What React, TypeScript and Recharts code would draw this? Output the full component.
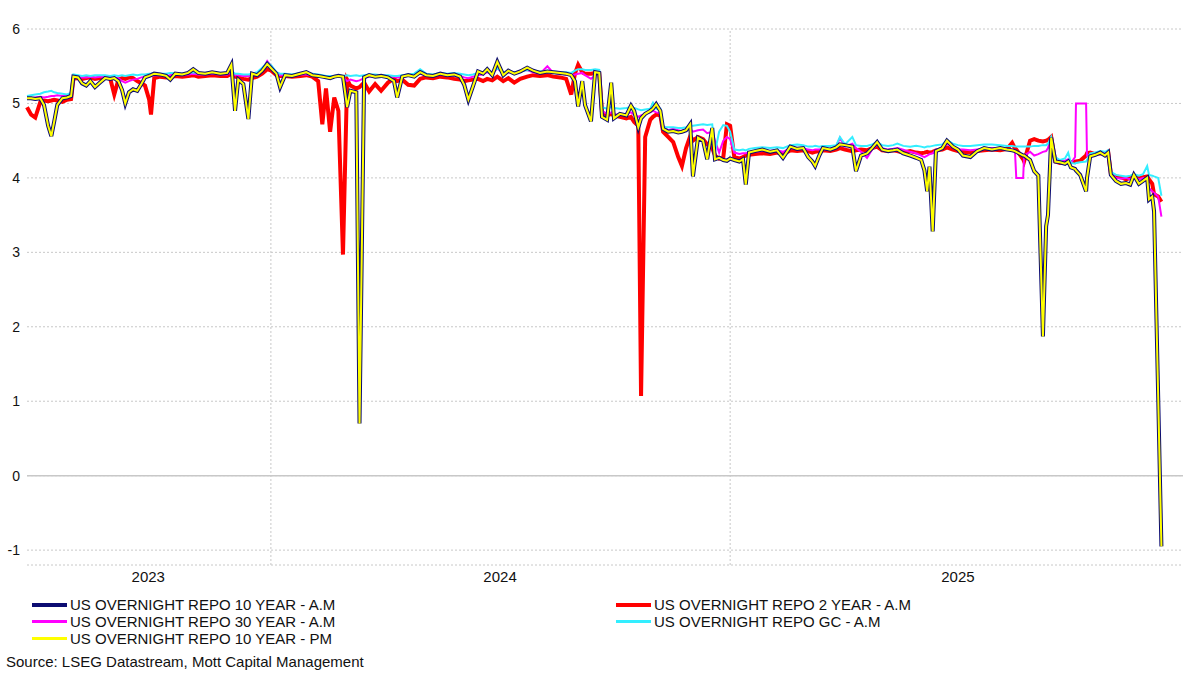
import { LineChart, Line, XAxis, YAxis, CartesianGrid, ReferenceLine } from 'recharts'

const dates = [
  2023.469, 2023.478, 2023.487, 2023.498, 2023.506, 2023.515, 2023.522, 2023.528, 2023.535, 2023.546,
  2023.556, 2023.565, 2023.570, 2023.580, 2023.589, 2023.598, 2023.607, 2023.617, 2023.628, 2023.639,
  2023.650, 2023.659, 2023.668, 2023.676, 2023.683, 2023.691, 2023.700, 2023.709, 2023.718, 2023.726,
  2023.735, 2023.739, 2023.746, 2023.759, 2023.772, 2023.781, 2023.792, 2023.807, 2023.820, 2023.831,
  2023.842, 2023.857, 2023.872, 2023.890, 2023.905, 2023.914, 2023.922, 2023.929, 2023.940, 2023.951,
  2023.959, 2023.970, 2023.981, 2023.992, 2024.001, 2024.012, 2024.020, 2024.031, 2024.046, 2024.064,
  2024.077, 2024.090, 2024.103, 2024.112, 2024.120, 2024.129, 2024.138, 2024.147, 2024.157, 2024.166,
  2024.173, 2024.186, 2024.193, 2024.203, 2024.214, 2024.227, 2024.240, 2024.255, 2024.268, 2024.275,
  2024.286, 2024.299, 2024.312, 2024.325, 2024.338, 2024.353, 2024.369, 2024.384, 2024.399, 2024.412,
  2024.421, 2024.430, 2024.440, 2024.451, 2024.462, 2024.471, 2024.482, 2024.493, 2024.506, 2024.517,
  2024.530, 2024.543, 2024.558, 2024.571, 2024.586, 2024.602, 2024.615, 2024.630, 2024.643, 2024.654,
  2024.662, 2024.669, 2024.678, 2024.684, 2024.697, 2024.706, 2024.715, 2024.721, 2024.732, 2024.741,
  2024.747, 2024.760, 2024.774, 2024.784, 2024.791, 2024.800, 2024.806, 2024.815, 2024.826, 2024.832,
  2024.839, 2024.848, 2024.854, 2024.865, 2024.876, 2024.887, 2024.895, 2024.904, 2024.913, 2024.919,
  2024.930, 2024.941, 2024.950, 2024.961, 2024.967, 2024.976, 2024.985, 2024.993, 2025.000, 2025.009,
  2025.020, 2025.028, 2025.034, 2025.041, 2025.054, 2025.070, 2025.087, 2025.102, 2025.115, 2025.131,
  2025.146, 2025.159, 2025.170, 2025.179, 2025.185, 2025.194, 2025.202, 2025.218, 2025.231, 2025.239,
  2025.250, 2025.266, 2025.274, 2025.285, 2025.298, 2025.309, 2025.320, 2025.331, 2025.344, 2025.355,
  2025.364, 2025.377, 2025.392, 2025.405, 2025.416, 2025.423, 2025.429, 2025.434, 2025.441, 2025.448,
  2025.462, 2025.472, 2025.485, 2025.496, 2025.507, 2025.523, 2025.538, 2025.553, 2025.570, 2025.588,
  2025.603, 2025.614, 2025.620, 2025.623, 2025.638, 2025.640, 2025.653, 2025.662, 2025.671, 2025.681,
  2025.688, 2025.692, 2025.699, 2025.708, 2025.718, 2025.729, 2025.736, 2025.742, 2025.751, 2025.753,
  2025.762, 2025.775, 2025.777, 2025.784, 2025.795, 2025.806, 2025.816, 2025.823, 2025.829, 2025.840,
  2025.851, 2025.862, 2025.871, 2025.879, 2025.890, 2025.899, 2025.908, 2025.912, 2025.919, 2025.923,
  2025.932, 2025.939,
]

const tenYearAm = [
  5.07, 5.07, 5.06, 5.07, 4.98, 4.70, 4.56, 4.75, 4.98, 5.07,
  5.08, 5.10, 5.36, 5.35, 5.27, 5.24, 5.30, 5.22, 5.28, 5.34,
  5.33, 5.34, 5.30, 5.18, 5.00, 5.15, 5.19, 5.17, 5.26, 5.35,
  5.37, 5.38, 5.40, 5.39, 5.37, 5.32, 5.40, 5.39, 5.41, 5.46,
  5.41, 5.40, 5.42, 5.40, 5.41, 5.52, 4.90, 5.32, 5.26, 4.79,
  5.40, 5.38, 5.44, 5.53, 5.47, 5.40, 5.22, 5.38, 5.37, 5.40,
  5.42, 5.38, 5.37, 5.36, 5.35, 5.34, 5.36, 5.37, 5.36, 4.95,
  5.17, 5.15, 0.70, 5.35, 5.38, 5.36, 5.37, 5.35, 5.30, 5.08,
  5.36, 5.38, 5.36, 5.42, 5.38, 5.37, 5.40, 5.38, 5.39, 5.36,
  5.25, 5.05, 5.23, 5.43, 5.40, 5.46, 5.38, 5.56, 5.38, 5.44,
  5.40, 5.43, 5.48, 5.44, 5.41, 5.43, 5.42, 5.41, 5.40, 5.38,
  5.30, 4.96, 5.30, 4.98, 4.76, 5.42, 5.41, 4.82, 4.78, 5.28,
  4.80, 4.86, 4.84, 4.97, 4.90, 4.68, 4.80, 4.86, 4.90, 4.93,
  4.99, 4.90, 4.66, 4.62, 4.63, 4.61, 4.62, 4.64, 4.72, 4.02,
  4.54, 4.50, 4.25, 4.67, 4.25, 4.27, 4.24, 4.23, 4.26, 4.24,
  4.22, 4.25, 3.91, 4.34, 4.36, 4.38, 4.35, 4.37, 4.27, 4.42,
  4.39, 4.40, 4.28, 4.22, 4.16, 4.30, 4.40, 4.38, 4.41, 4.45,
  4.44, 4.42, 4.09, 4.30, 4.33, 4.40, 4.48, 4.38, 4.36, 4.37,
  4.38, 4.33, 4.30, 4.27, 4.24, 4.10, 3.82, 4.15, 3.28, 4.36,
  4.40, 4.50, 4.42, 4.38, 4.30, 4.28, 4.36, 4.40, 4.38, 4.40,
  4.38, 4.37, 4.36, 4.35, 4.30, 4.30, 4.24, 4.09, 4.03, 1.87,
  3.35, 3.50, 4.54, 4.22, 4.21, 4.19, 4.22, 4.14, 4.12, 4.10,
  4.04, 3.82, 4.00, 4.29, 4.31, 4.34, 4.30, 4.34, 4.04, 3.96,
  3.92, 3.93, 3.91, 4.04, 3.92, 3.96, 4.00, 3.71, 3.75, 3.55,
  1.05, -0.95,
]

const twoYearAm = [
  4.95, 4.85, 4.81, 5.02, 5.04, 5.03, 5.04, 5.05, 5.04, 5.02,
  5.05, 5.06, 5.33, 5.34, 5.33, 5.34, 5.35, 5.33, 5.34, 5.35,
  5.34, 5.12, 5.32, 5.34, 5.33, 5.35, 5.34, 5.30, 5.27, 5.24,
  5.05, 4.85, 5.34, 5.36, 5.35, 5.36, 5.37, 5.36, 5.37, 5.38,
  5.36, 5.37, 5.38, 5.37, 5.37, 5.40, 5.36, 5.35, 5.33, 5.32,
  5.34, 5.36, 5.40, 5.46, 5.44, 5.38, 5.37, 5.37, 5.36, 5.37,
  5.38, 5.36, 5.30, 4.72, 5.20, 4.62, 5.08, 4.90, 2.97, 5.32,
  5.24, 5.20, 5.22, 5.28, 5.16, 5.26, 5.17, 5.28, 5.33, 5.30,
  5.32, 5.25, 5.24, 5.33, 5.35, 5.34, 5.36, 5.35, 5.33, 5.32,
  5.30, 5.31, 5.32, 5.33, 5.30, 5.33, 5.31, 5.36, 5.30, 5.34,
  5.28, 5.33, 5.36, 5.38, 5.37, 5.38, 5.36, 5.35, 5.33, 5.12,
  5.40, 5.52, 5.42, 5.40, 5.40, 5.41, 5.40, 4.88, 4.84, 4.86,
  4.84, 4.82, 4.80, 4.82, 4.75, 4.70, 1.07, 4.55, 4.78, 4.82,
  4.85, 4.84, 4.62, 4.55, 4.48, 4.28, 4.16, 4.40, 4.56, 4.50,
  4.55, 4.52, 4.45, 4.40, 4.30, 4.26, 4.27, 4.72, 4.70, 4.28,
  4.26, 4.28, 4.30, 4.31, 4.32, 4.33, 4.32, 4.34, 4.32, 4.37,
  4.36, 4.37, 4.36, 4.34, 4.35, 4.36, 4.37, 4.36, 4.38, 4.40,
  4.38, 4.36, 4.37, 4.38, 4.37, 4.40, 4.42, 4.37, 4.36, 4.37,
  4.36, 4.34, 4.36, 4.34, 4.33, 4.34, 4.35, 4.34, 4.35, 4.37,
  4.38, 4.41, 4.38, 4.36, 4.35, 4.34, 4.36, 4.37, 4.38, 4.37,
  4.39, 4.47, 4.40, 4.38, 4.25, 4.22, 4.50, 4.52, 4.50, 4.49,
  4.50, 4.51, 4.55, 4.22, 4.20, 4.21, 4.22, 4.21, 4.22, 4.22,
  4.23, 4.30, 4.33, 4.34, 4.32, 4.33, 4.32, 4.35, 4.05, 4.02,
  4.01, 3.98, 4.00, 4.02, 4.00, 4.01, 4.02, 3.98, 3.92, 3.78,
  3.75, 3.68,
]

const thirtyYearAm = [
  5.08, 5.07, 5.08, 5.09, 5.08, 5.09, 5.10, 5.10, 5.11, 5.10,
  5.11, 5.12, 5.35, 5.36, 5.35, 5.35, 5.36, 5.35, 5.36, 5.36,
  5.35, 5.35, 5.34, 5.30, 5.28, 5.30, 5.32, 5.33, 5.35, 5.36,
  5.36, 5.37, 5.38, 5.38, 5.37, 5.38, 5.39, 5.38, 5.39, 5.40,
  5.39, 5.39, 5.40, 5.39, 5.39, 5.42, 5.38, 5.38, 5.37, 5.37,
  5.38, 5.40, 5.45, 5.57, 5.50, 5.40, 5.38, 5.38, 5.38, 5.39,
  5.39, 5.38, 5.37, 5.36, 5.35, 5.35, 5.36, 5.36, 5.35, 5.30,
  5.32, 5.30, 5.31, 5.34, 5.36, 5.37, 5.36, 5.36, 5.36, 5.35,
  5.36, 5.37, 5.37, 5.40, 5.38, 5.37, 5.39, 5.38, 5.38, 5.37,
  5.35, 5.34, 5.36, 5.38, 5.39, 5.42, 5.40, 5.47, 5.41, 5.42,
  5.41, 5.44, 5.45, 5.42, 5.40, 5.50, 5.41, 5.40, 5.39, 5.38,
  5.39, 5.40, 5.41, 5.38, 5.33, 5.38, 5.40, 4.90, 4.86, 4.88,
  4.85, 4.85, 4.86, 4.88, 4.85, 4.82, 4.84, 4.86, 4.88, 4.90,
  4.88, 4.87, 4.70, 4.64, 4.66, 4.64, 4.63, 4.65, 4.66, 4.62,
  4.64, 4.65, 4.60, 4.62, 4.50, 4.34, 4.50, 4.55, 4.52, 4.34,
  4.32, 4.33, 4.33, 4.34, 4.35, 4.36, 4.36, 4.37, 4.35, 4.40,
  4.39, 4.40, 4.38, 4.37, 4.38, 4.38, 4.38, 4.39, 4.42, 4.54,
  4.42, 4.46, 4.40, 4.35, 4.27, 4.38, 4.45, 4.40, 4.38, 4.39,
  4.40, 4.38, 4.35, 4.33, 4.30, 4.28, 4.30, 4.32, 4.33, 4.38,
  4.40, 4.46, 4.41, 4.38, 4.38, 4.37, 4.38, 4.39, 4.40, 4.39,
  4.38, 4.38, 4.37, 4.00, 4.00, 4.30, 4.35, 4.30, 4.32, 4.35,
  4.36, 4.40, 4.55, 4.25, 4.22, 4.23, 4.25, 4.20, 4.28, 5.00,
  5.00, 5.00, 4.30, 4.31, 4.32, 4.34, 4.33, 4.35, 4.06, 4.00,
  3.99, 4.00, 3.98, 4.02, 3.98, 4.00, 3.95, 3.86, 3.82, 3.80,
  3.75, 3.48,
]

const gcAm = [
  5.10, 5.11, 5.12, 5.13, 5.15, 5.16, 5.17, 5.15, 5.14, 5.13,
  5.12, 5.14, 5.39, 5.38, 5.37, 5.38, 5.37, 5.38, 5.38, 5.38,
  5.37, 5.38, 5.37, 5.38, 5.37, 5.38, 5.39, 5.38, 5.39, 5.39,
  5.40, 5.40, 5.41, 5.40, 5.40, 5.41, 5.41, 5.40, 5.41, 5.42,
  5.41, 5.41, 5.42, 5.41, 5.41, 5.44, 5.40, 5.40, 5.39, 5.39,
  5.40, 5.42, 5.48, 5.55, 5.51, 5.42, 5.40, 5.40, 5.39, 5.41,
  5.41, 5.40, 5.39, 5.38, 5.37, 5.37, 5.37, 5.38, 5.37, 5.38,
  5.37, 5.38, 5.37, 5.38, 5.39, 5.39, 5.38, 5.38, 5.37, 5.37,
  5.38, 5.39, 5.40, 5.46, 5.40, 5.39, 5.41, 5.40, 5.41, 5.40,
  5.39, 5.38, 5.39, 5.41, 5.41, 5.43, 5.42, 5.47, 5.42, 5.43,
  5.42, 5.43, 5.45, 5.44, 5.43, 5.44, 5.43, 5.42, 5.42, 5.41,
  5.44, 5.46, 5.46, 5.45, 5.45, 5.46, 5.45, 4.95, 4.93, 4.95,
  4.94, 4.93, 4.94, 4.95, 4.94, 4.92, 4.91, 4.92, 4.93, 5.01,
  4.93, 4.93, 4.68, 4.68, 4.68, 4.67, 4.67, 4.68, 4.70, 4.70,
  4.71, 4.72, 4.71, 4.72, 4.35, 4.62, 4.71, 4.70, 4.62, 4.38,
  4.37, 4.38, 4.37, 4.39, 4.40, 4.41, 4.40, 4.41, 4.40, 4.44,
  4.45, 4.44, 4.42, 4.42, 4.43, 4.42, 4.43, 4.43, 4.44, 4.55,
  4.45, 4.55, 4.44, 4.43, 4.43, 4.45, 4.48, 4.44, 4.43, 4.44,
  4.46, 4.43, 4.42, 4.43, 4.42, 4.41, 4.42, 4.42, 4.43, 4.44,
  4.45, 4.51, 4.46, 4.44, 4.43, 4.43, 4.44, 4.45, 4.45, 4.44,
  4.43, 4.43, 4.42, 4.42, 4.42, 4.42, 4.42, 4.43, 4.43, 4.44,
  4.44, 4.46, 4.55, 4.28, 4.24, 4.26, 4.34, 4.20, 4.19, 4.20,
  4.21, 4.22, 4.24, 4.33, 4.34, 4.36, 4.35, 4.37, 4.08, 4.04,
  4.03, 4.02, 4.03, 4.05, 4.03, 4.05, 4.16, 4.04, 4.03, 4.02,
  4.00, 3.76,
]

// the PM fixing sits on top of the AM print at this scale
const tenYearPm = tenYearAm

const yTicks = [-1, 0, 1, 2, 3, 4, 5, 6]
const yearTicks = [2023.733, 2024.499, 2025.496]
const yearLabels = ['2023', '2024', '2025']
const yearStarts = [2024, 2025]

const NAVY = '#0c0c72'
const RED = '#ff0000'
const MAGENTA = '#ff00ff'
const CYAN = '#33eeff'
const YELLOW = '#ffff00'
const GRID = '#c8c8c8'
const TEXT = '#111111'
const FONT = '"Liberation Sans", Arial, Helvetica, sans-serif'

const chartData = dates.map((date, i) => ({
  date,
  tenYearAm: tenYearAm[i],
  twoYearAm: twoYearAm[i],
  thirtyYearAm: thirtyYearAm[i],
  gcAm: gcAm[i],
  tenYearPm: tenYearPm[i],
}))

function Swatch({ color, thickness, label }: { color: string; thickness: number; label: string }) {
  return (
    <div style={{ display: 'flex', alignItems: 'center', height: 17 }}>
      <span style={{ display: 'inline-block', width: 35, height: thickness, background: color, marginRight: 3 }} />
      <span>{label}</span>
    </div>
  )
}

export default function App() {
  return (
    <div
      style={{
        position: 'absolute',
        left: 0,
        top: 0,
        width: 1200,
        height: 674,
        background: '#fff',
        fontFamily: FONT,
        color: TEXT,
        fontSize: 15,
      }}
    >
      <LineChart width={1200} height={674} data={chartData} margin={{ top: 29, right: 17, left: 0, bottom: 79 }}>
        <CartesianGrid vertical={false} stroke={GRID} strokeDasharray="2 2" />
        {yearStarts.map((x) => (
          <ReferenceLine key={x} x={x} stroke={GRID} strokeDasharray="2 2" />
        ))}
        <ReferenceLine y={0} stroke={GRID} strokeWidth={1.5} />
        <XAxis
          dataKey="date"
          type="number"
          domain={[2023.469, 2025.986]}
          ticks={yearTicks}
          tickFormatter={(_v: number, i: number) => yearLabels[i]}
          axisLine={false}
          tickLine={false}
          tickSize={0}
          tickMargin={6}
          height={30}
          interval={0}
          tick={{ fill: TEXT, fontSize: 15, fontFamily: FONT }}
        />
        <YAxis
          type="number"
          domain={[-1.2, 6]}
          ticks={yTicks}
          width={27}
          axisLine={false}
          tickLine={false}
          tickSize={0}
          tickMargin={7}
          interval={0}
          tick={{ fill: TEXT, fontSize: 14, fontFamily: FONT }}
        />
        <Line type="linear" dataKey="twoYearAm" stroke={RED} strokeWidth={4} dot={false} isAnimationActive={false} />
        <Line type="linear" dataKey="thirtyYearAm" stroke={MAGENTA} strokeWidth={2} dot={false} isAnimationActive={false} />
        <Line type="linear" dataKey="gcAm" stroke={CYAN} strokeWidth={2} dot={false} isAnimationActive={false} />
        <Line type="linear" dataKey="tenYearAm" stroke={NAVY} strokeWidth={4} dot={false} isAnimationActive={false} />
        <Line type="linear" dataKey="tenYearPm" stroke={YELLOW} strokeWidth={2} dot={false} isAnimationActive={false} />
      </LineChart>

      <div style={{ position: 'absolute', left: 32, top: 596, display: 'flex' }}>
        <div style={{ width: 584 }}>
          <Swatch color={NAVY} thickness={4} label="US OVERNIGHT REPO 10 YEAR - A.M" />
          <Swatch color={MAGENTA} thickness={3} label="US OVERNIGHT REPO 30 YEAR - A.M" />
          <Swatch color={YELLOW} thickness={3} label="US OVERNIGHT REPO 10 YEAR - PM" />
        </div>
        <div>
          <Swatch color={RED} thickness={4} label="US OVERNIGHT REPO 2 YEAR - A.M" />
          <Swatch color={CYAN} thickness={3} label="US OVERNIGHT REPO GC - A.M" />
        </div>
      </div>
      <div style={{ position: 'absolute', left: 6, top: 653, lineHeight: '17px' }}>
        Source: LSEG Datastream, Mott Capital Management
      </div>
    </div>
  )
}
